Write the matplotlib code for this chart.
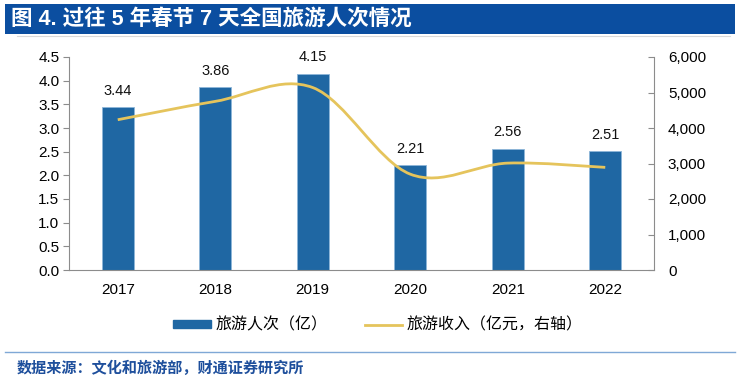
import matplotlib
matplotlib.use("Agg")
import matplotlib.pyplot as plt
from matplotlib.path import Path
from matplotlib.patches import PathPatch, Rectangle, Patch
from matplotlib.lines import Line2D
from matplotlib.ticker import FuncFormatter, MultipleLocator
import numpy as np

plt.rcParams['font.family'] = ['Liberation Sans', 'Noto Sans CJK SC', 'DejaVu Sans']

years = ['2017', '2018', '2019', '2020', '2021', '2022']
trips = [3.44, 3.86, 4.15, 2.21, 2.56, 2.51]          # 旅游人次（亿）
revenue = [4233, 4750, 5139, 2700, 3011, 2891]        # 旅游收入（亿元）
title = '图 4. 过往 5 年春节 7 天全国旅游人次情况'
source = '数据来源：文化和旅游部，财通证券研究所'
legend_labels = ['旅游人次（亿）', '旅游收入（亿元，右轴）']

bar_color = '#1F67A3'
bar_edge = '#8DB6D9'
line_color = '#E5C45C'
axis_gray = '#8C8C8C'
title_blue = '#0B4EA0'
source_blue = '#1E4F9C'

fig = plt.figure(figsize=(7.4, 3.8), dpi=100)
W, H = 740, 380

# title bar
fig.patches.append(Rectangle((5 / W, 1 - 34 / H), 730 / W, 30 / H, transform=fig.transFigure,
                             facecolor=title_blue, edgecolor='none', zorder=0))
fig.lines.append(Line2D([17 / W, 730 / W], [1 - 35.5 / H] * 2, transform=fig.transFigure,
                        color='#D9D9D9', lw=0.8))
fig.text(11 / W, 1 - 19.5 / H, title, color='white', fontsize=15.5, fontweight='bold',
         va='center', ha='left', family=['Liberation Sans', 'Noto Sans CJK SC'])

# footer
fig.lines.append(Line2D([5 / W, 735 / W], [1 - 352 / H] * 2, transform=fig.transFigure,
                        color='#7FA8D6', lw=1.0))
fig.text(17 / W, 1 - 368 / H, source, color=source_blue, fontsize=10.9, fontweight='bold',
         va='center', ha='left', family=['Noto Sans CJK SC', 'DejaVu Sans'])

ax = fig.add_axes([69 / W, 1 - 270 / H, (654 - 69) / W, (270 - 57) / H])
x = np.arange(len(years))
ax.bar(x, trips, width=0.33, color=bar_color, edgecolor=bar_edge, linewidth=0.6, zorder=2)
for xi, v in zip(x, trips):
    ax.text(xi, v + 0.2, f'{v:.2f}', ha='center', va='bottom', fontsize=10.5, color='#111111')
ax.set_xlim(-0.5, len(years) - 0.5)
ax.set_ylim(0, 4.5)
ax.yaxis.set_major_locator(MultipleLocator(0.5))
ax.yaxis.set_major_formatter(FuncFormatter(lambda v, p: f'{v:.1f}'))
ax.set_xticks(x)
ax.set_xticklabels(years)
ax.tick_params(axis='x', length=0, pad=9, labelsize=11)
ax.tick_params(axis='y', direction='out', length=4, color=axis_gray, labelsize=11, pad=3)
for s in ['top', 'right']:
    ax.spines[s].set_visible(False)
for s in ['left', 'bottom']:
    ax.spines[s].set_color(axis_gray)
    ax.spines[s].set_linewidth(0.8)

ax2 = ax.twinx()
ax2.set_ylim(0, 6000)
ax2.yaxis.set_major_locator(MultipleLocator(1000))
ax2.yaxis.set_major_formatter(FuncFormatter(lambda v, p: f'{int(v):,}'))
ax2.tick_params(axis='y', direction='in', length=4, color=axis_gray, labelsize=11, pad=10)
for s in ['top', 'left', 'bottom']:
    ax2.spines[s].set_visible(False)
ax2.spines['right'].set_color(axis_gray)
ax2.spines['right'].set_linewidth(0.8)

# smooth line (Excel-style Bezier through the data points)
px = np.asarray(x, dtype=float)
py = np.asarray(revenue, dtype=float)
n = len(px)
verts = [(px[0], py[0])]
codes = [Path.MOVETO]
for i in range(n - 1):
    p0 = np.array([px[max(i - 1, 0)], py[max(i - 1, 0)]])
    p1 = np.array([px[i], py[i]])
    p2 = np.array([px[i + 1], py[i + 1]])
    p3 = np.array([px[min(i + 2, n - 1)], py[min(i + 2, n - 1)]])
    c1 = p1 + (p2 - p0) / 6.0
    c2 = p2 - (p3 - p1) / 6.0
    verts += [tuple(c1), tuple(c2), tuple(p2)]
    codes += [Path.CURVE4] * 3
ax2.add_patch(PathPatch(Path(verts, codes), facecolor='none', edgecolor=line_color,
                        lw=2.0, capstyle='butt', zorder=3))

handles = [Patch(facecolor=bar_color, edgecolor=bar_color),
           Line2D([0], [0], color=line_color, lw=2.0)]
fig.legend(handles, legend_labels, loc='center', bbox_to_anchor=(0.511, 1 - 325 / H),
           ncol=2, frameon=False, handlelength=2.35, handleheight=0.45, columnspacing=2.3,
           handletextpad=0.3, prop={'family': ['Noto Sans CJK SC', 'DejaVu Sans'], 'size': 11.5})

fig.savefig('out.png', dpi=100)
